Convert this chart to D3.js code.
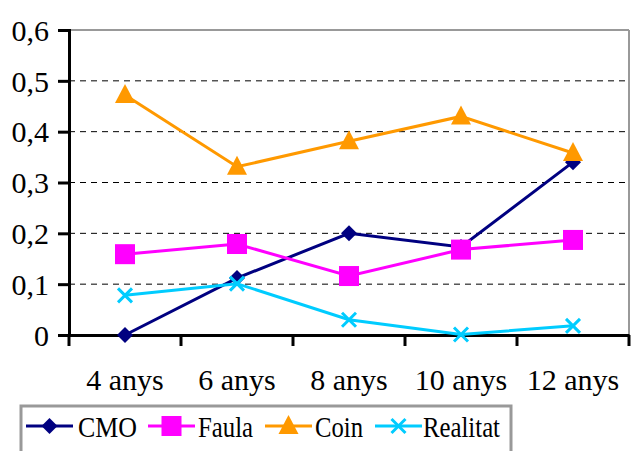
<!DOCTYPE html>
<html><head><meta charset="utf-8">
<script src="https://cdn.jsdelivr.net/npm/d3@7"></script>
<style>body{margin:0;background:#fff}svg{display:block}</style>
</head><body>
<script>
const categories = ["4 anys","6 anys","8 anys","10 anys","12 anys"];
const cmo      = [0, 0.112, 0.2, 0.173, 0.34];
const faula    = [0.159, 0.179, 0.116, 0.168, 0.187];
const coin     = [0.472, 0.331, 0.381, 0.43, 0.358];
const realitat = [0.078, 0.101, 0.03, 0.001, 0.018];
const yTicks = [0, 0.1, 0.2, 0.3, 0.4, 0.5, 0.6];
const seriesNames = ["CMO","Faula","Coin","Realitat"];
const seriesColors = ["#000080","#FF00FF","#FF9900","#00CCFF"];
const seriesMarkers = ["diamond","square","triangle","x"];

const W=631,H=451;
const svg=d3.select("body").append("svg").attr("width",W).attr("height",H)
  .attr("font-family","Liberation Serif").style("font-family",'"Liberation Serif"');
const x=d3.scaleBand().domain(categories).range([69,629]);
const y=d3.scaleLinear().domain([0,0.6]).range([335,30]);

function styleText(sel,size){
  sel.attr("font-family","Liberation Serif").style("font-family",'"Liberation Serif"')
     .attr("font-size",size).style("font-size",size+"px").attr("fill","#000");
}

// gridlines
svg.append("g").selectAll("line").data(yTicks.filter(d=>d>0&&d<0.6)).join("line")
 .attr("x1",69).attr("x2",629).attr("y1",d=>y(d)).attr("y2",d=>y(d))
 .attr("stroke","#000").attr("stroke-width",1).attr("stroke-dasharray","6,5");
svg.append("line").attr("x1",69).attr("x2",629).attr("y1",y(0.6)).attr("y2",y(0.6)).attr("stroke","#999").attr("stroke-width",2);
svg.append("line").attr("x1",629).attr("x2",629).attr("y1",y(0.6)).attr("y2",y(0)).attr("stroke","#999").attr("stroke-width",2);

// axes
const fmt=d=>d===0?"0":d3.format(".1f")(d).replace(".",",");
const ya=svg.append("g").attr("transform","translate(69,0)")
 .call(d3.axisLeft(y).tickValues(yTicks).tickFormat(fmt).tickSize(11).tickPadding(9));
ya.attr("font-family",null).attr("font-size",null);
ya.select(".domain").attr("stroke-width",3);
ya.selectAll(".tick line").attr("stroke-width",3);
styleText(ya.selectAll("text"),30);
ya.selectAll("text").attr("dy","0.34em");
const xa=svg.append("g").attr("transform","translate(0,335)")
 .call(d3.axisBottom(x).tickSize(0).tickPadding(34));
xa.attr("font-family",null).attr("font-size",null);
xa.select(".domain").attr("stroke-width",3);
styleText(xa.selectAll("text"),30);
xa.selectAll("text").attr("dy","0.71em");
const tickPos=categories.map(c=>x(c)).concat([x.range()[1]]);
svg.append("g").selectAll("line").data(tickPos).join("line")
 .attr("x1",d=>d).attr("x2",d=>d).attr("y1",335).attr("y2",346).attr("stroke","#000").attr("stroke-width",3);

function marker(g,type,color,cx,cy){
  if(type==="diamond"){
    g.append("path").attr("d",`M${cx},${cy-8}L${cx+8},${cy}L${cx},${cy+8}L${cx-8},${cy}Z`).attr("fill",color);
  }else if(type==="square"){
    g.append("rect").attr("x",cx-10).attr("y",cy-10).attr("width",20).attr("height",20).attr("fill",color);
  }else if(type==="triangle"){
    g.append("path").attr("d",`M${cx},${cy-11}L${cx+10},${cy+8}L${cx-10},${cy+8}Z`).attr("fill",color);
  }else{
    const s=7;
    g.append("path").attr("d",`M${cx-s},${cy-s}L${cx+s},${cy+s}M${cx-s},${cy+s}L${cx+s},${cy-s}`).attr("stroke",color).attr("stroke-width",3);
  }
}

const data=[cmo,faula,coin,realitat];
const cx=c=>x(c)+x.bandwidth()/2;
const line=d3.line().x((d,i)=>cx(categories[i])).y(d=>y(d));
[0,1,2,3].forEach(k=>{
  const g=svg.append("g");
  g.append("path").datum(data[k]).attr("d",line).attr("fill","none").attr("stroke",seriesColors[k]).attr("stroke-width",3);
  data[k].forEach((v,i)=>marker(g,seriesMarkers[k],seriesColors[k],cx(categories[i]),y(v)));
});

// legend
const lg=svg.append("g");
lg.append("rect").attr("x",21).attr("y",406).attr("width",490).attr("height",60).attr("fill","#fff").attr("stroke","#999").attr("stroke-width",3);
const lx=[26,148,265,375];
const tx=[78,198,315,423];
const tw=[59,55,48,77];
seriesNames.forEach((n,k)=>{
  const g=lg.append("g");
  g.append("line").attr("x1",lx[k]).attr("x2",lx[k]+47).attr("y1",426).attr("y2",426).attr("stroke",seriesColors[k]).attr("stroke-width",3);
  marker(g,seriesMarkers[k],seriesColors[k],lx[k]+23.5,426);
  const t=g.append("text").attr("x",tx[k]).attr("y",437).text(n);
  styleText(t,30);
  t.attr("textLength",tw[k]).attr("lengthAdjust","spacingAndGlyphs");
});
</script>
</body></html>
